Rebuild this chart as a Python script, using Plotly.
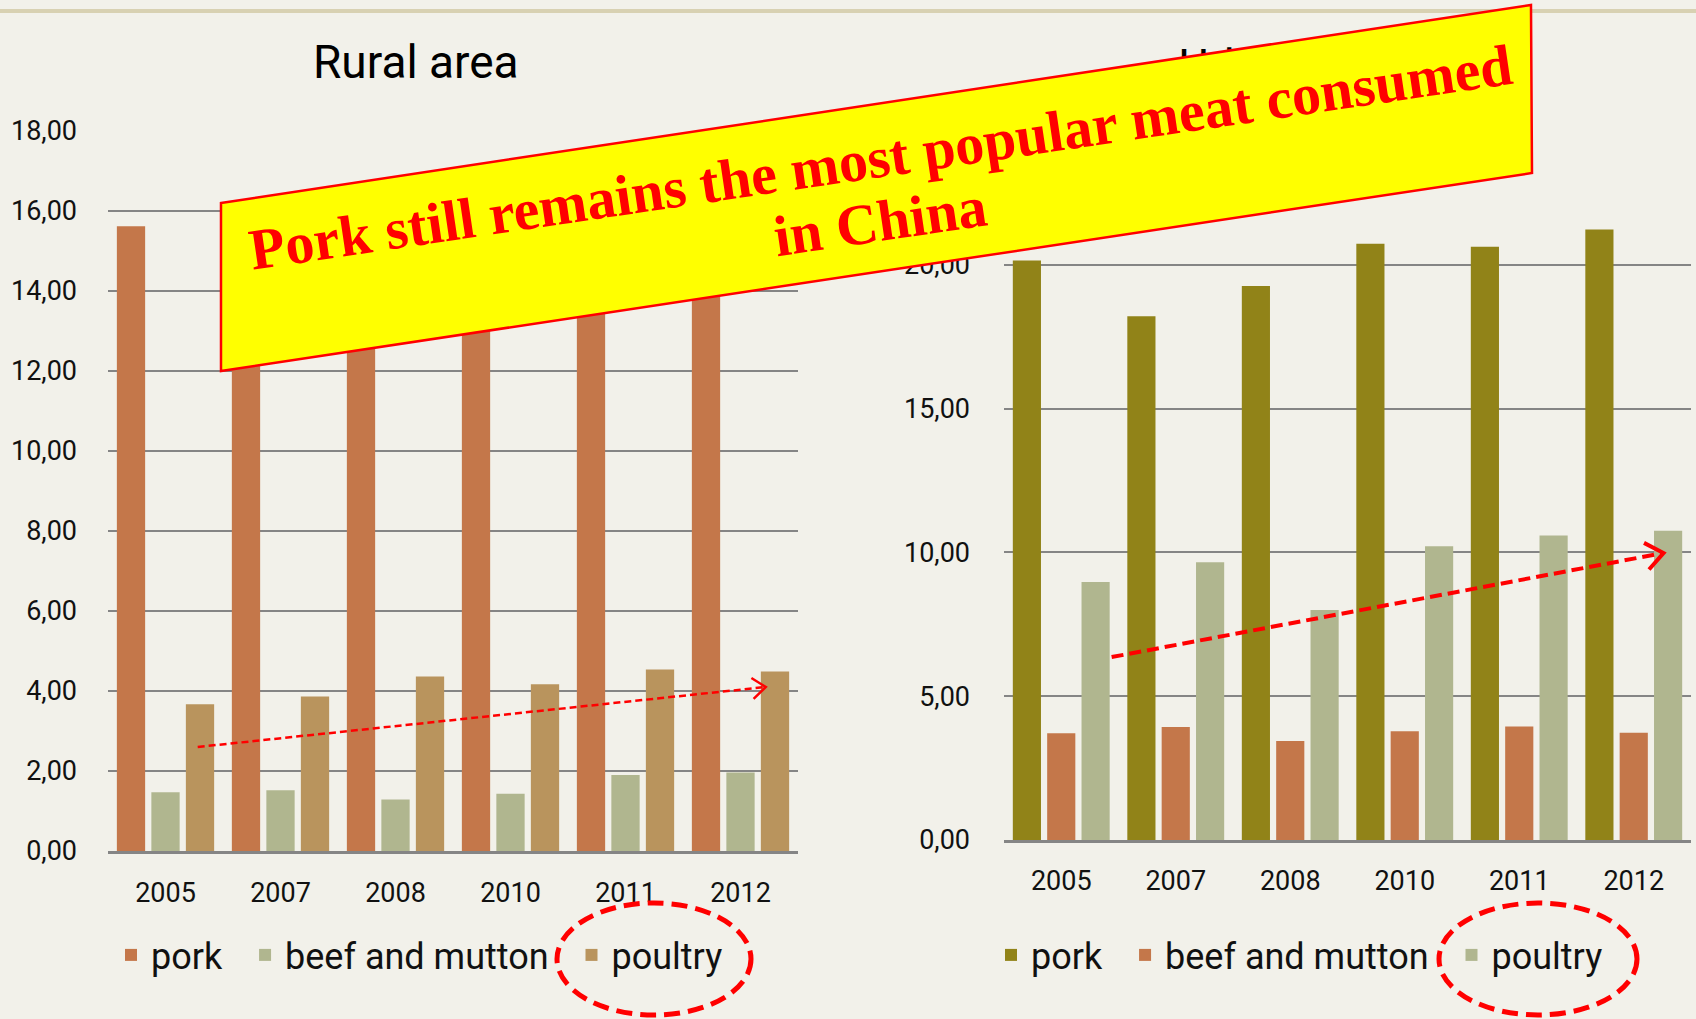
import math
import plotly.graph_objects as go

# ---------------- data ----------------
years = ["2005", "2007", "2008", "2010", "2011", "2012"]
series_names = ["pork", "beef and mutton", "poultry"]

rural_pork = [15.62, 13.37, 12.65, 14.40, 14.42, 14.40]
rural_beef = [1.47, 1.52, 1.29, 1.43, 1.90, 1.96]
rural_poultry = [3.67, 3.86, 4.36, 4.17, 4.54, 4.49]

urban_pork = [20.15, 18.21, 19.26, 20.73, 20.63, 21.23]
urban_beef = [3.71, 3.93, 3.44, 3.78, 3.95, 3.73]
urban_poultry = [8.97, 9.66, 8.00, 10.21, 10.59, 10.75]

rural_title = "Rural area"
urban_title = "Urban area"
banner_line1 = "Pork still remains the most popular meat consumed"
banner_line2 = "in China"

# ---------------- style ----------------
W, H = 1696, 1019
FONT = "Roboto, 'Liberation Sans', sans-serif"
SERIF = "'Liberation Serif', 'Times New Roman', serif"
C_ORANGE = "#C4774A"
C_SAGE = "#B0B68F"
C_TAN = "#B9945D"
C_OLIVE = "#918318"
GRID = "#858585"
BG = "#F2F1EA"
PAD = "\u00a0\u00a0"  # spacing after legend entries


def px(x):
    return x / W


def py(y):
    return 1 - y / H


fig = go.Figure()

legend_names = [series_names[0] + PAD, series_names[1] + PAD, series_names[2]]

rural_vals = [rural_pork, rural_beef, rural_poultry]
rural_cols = [C_ORANGE, C_SAGE, C_TAN]
for name, vals, col in zip(legend_names, rural_vals, rural_cols):
    fig.add_trace(go.Bar(x=years, y=vals, name=name, marker_color=col,
                         xaxis="x", yaxis="y", legend="legend"))

urban_vals = [urban_pork, urban_beef, urban_poultry]
urban_cols = [C_OLIVE, C_ORANGE, C_SAGE]
for name, vals, col in zip(legend_names, urban_vals, urban_cols):
    fig.add_trace(go.Bar(x=years, y=vals, name=name, marker_color=col,
                         xaxis="x2", yaxis="y2", legend="legend2"))

axis_common = dict(type="category", showgrid=False, showline=True, linecolor=GRID,
                   linewidth=2.5, ticks="", automargin=False,
                   tickfont=dict(family=FONT, size=27, color="#111"), fixedrange=True)
yaxis_common = dict(showgrid=True, gridcolor=GRID, gridwidth=2.2, zeroline=False,
                    showline=False, tickformat=".2f", automargin=False,
                    tickfont=dict(family=FONT, size=27, color="#111"), fixedrange=True)

legend_common = dict(orientation="h", xanchor="left", yanchor="middle",
                     font=dict(family=FONT, size=36, color="#111"),
                     bgcolor="rgba(0,0,0,0)", itemwidth=30, traceorder="normal")

fig.update_layout(
    template="none",
    width=W, height=H, autosize=False,
    margin=dict(l=0, r=0, t=0, b=0, pad=0),
    paper_bgcolor=BG, plot_bgcolor="rgba(0,0,0,0)",
    separators=",.",
    barmode="group", bargap=0.1, bargroupgap=0.18,
    xaxis=dict(domain=[px(108), px(798)], anchor="y", ticklabelstandoff=16, **axis_common),
    yaxis=dict(domain=[py(851), py(131)], anchor="x", range=[0, 18], dtick=2,
               ticklabelstandoff=30, **yaxis_common),
    xaxis2=dict(domain=[px(1004), px(1691)], anchor="y2", ticklabelstandoff=15, **axis_common),
    yaxis2=dict(domain=[py(840), py(121)], anchor="x2", range=[0, 25], dtick=5,
                ticklabelstandoff=33, **yaxis_common),
    legend=dict(x=px(111), y=py(955), **legend_common),
    legend2=dict(x=px(991), y=py(955), **legend_common),
    showlegend=True,
)

shapes = []
# top decorative line
shapes.append(dict(type="line", xref="paper", yref="paper", x0=0, x1=1, y0=py(11), y1=py(11),
                   line=dict(color="#D8D1B2", width=4), layer="below"))

# Urban title (as a shape label so that the banner can cover it)
shapes.append(dict(type="rect", xref="paper", yref="paper",
                   x0=px(1160), x1=px(1420), y0=py(95), y1=py(30),
                   line=dict(width=0), fillcolor="rgba(0,0,0,0)", layer="above",
                   label=dict(text=urban_title, textposition="middle center",
                              font=dict(family=FONT, size=46, color="#000"))))


# trend arrows (data coordinates)
def arrow(xref, yref, x0, y0, x1, y1, sx, sy, width, dash, arm):
    out = [dict(type="line", xref=xref, yref=yref, x0=x0, y0=y0, x1=x1, y1=y1,
                line=dict(color="#FF0000", width=width, dash=dash), layer="above")]
    ang = math.atan2((y1 - y0) * sy, (x1 - x0) * sx)
    pts = []
    for s in (1, -1):
        a = ang + s * math.radians(38)
        pts.append((-arm * math.cos(a), -arm * math.sin(a)))
    path = f"M{pts[0][0]:.1f},{pts[0][1]:.1f} L0,0 L{pts[1][0]:.1f},{pts[1][1]:.1f}"
    out.append(dict(type="path", xref=xref, yref=yref, xsizemode="pixel", ysizemode="pixel",
                    xanchor=x1, yanchor=y1, path=path,
                    line=dict(color="#FF0000", width=width), layer="above"))
    return out


shapes += arrow("x", "y", 0.28, 2.6, 5.22, 4.1, 115, 40, 2.5, "7px,4px", 17)
shapes += arrow("x2", "y2", 0.44, 6.36, 5.26, 9.98, 114.5, 28.77, 4, "12px,6px", 22)

# dashed ellipses around the "poultry" legend entries
shapes.append(dict(type="circle", xref="paper", yref="paper",
                   x0=px(557), x1=px(751), y0=py(1015), y1=py(903),
                   line=dict(color="#FF0000", width=5, dash="16px,8px"), layer="above"))
shapes.append(dict(type="circle", xref="paper", yref="paper",
                   x0=px(1439), x1=px(1637), y0=py(1015), y1=py(903),
                   line=dict(color="#FF0000", width=5, dash="16px,8px"), layer="above"))

# yellow banner
banner_path = (f"M{px(221):.4f},{py(203):.4f} L{px(1531):.4f},{py(5):.4f} "
               f"L{px(1532):.4f},{py(173):.4f} L{px(221):.4f},{py(371):.4f} Z")
shapes.append(dict(type="path", xref="paper", yref="paper", path=banner_path,
                   fillcolor="#FFFF00", line=dict(color="#FF0000", width=2.5), layer="above"))

fig.update_layout(shapes=shapes)

annotations = [
    dict(text=rural_title, x=px(416), y=py(62), xref="paper", yref="paper",
         xanchor="center", yanchor="middle", showarrow=False,
         font=dict(family=FONT, size=46, color="#000")),
    dict(text=banner_line1, x=px(880), y=py(158), xref="paper", yref="paper",
         xanchor="center", yanchor="middle", showarrow=False, textangle=-8.4,
         font=dict(family=SERIF, size=58, color="#FF0000", weight="bold")),
    dict(text=banner_line2, x=px(880), y=py(222), xref="paper", yref="paper",
         xanchor="center", yanchor="middle", showarrow=False, textangle=-8.4,
         font=dict(family=SERIF, size=58, color="#FF0000", weight="bold")),
]
fig.update_layout(annotations=annotations)

fig.write_html("out.html", config={"displayModeBar": False},
               post_script="document.body.style.margin='0';document.body.style.overflow='hidden';")
